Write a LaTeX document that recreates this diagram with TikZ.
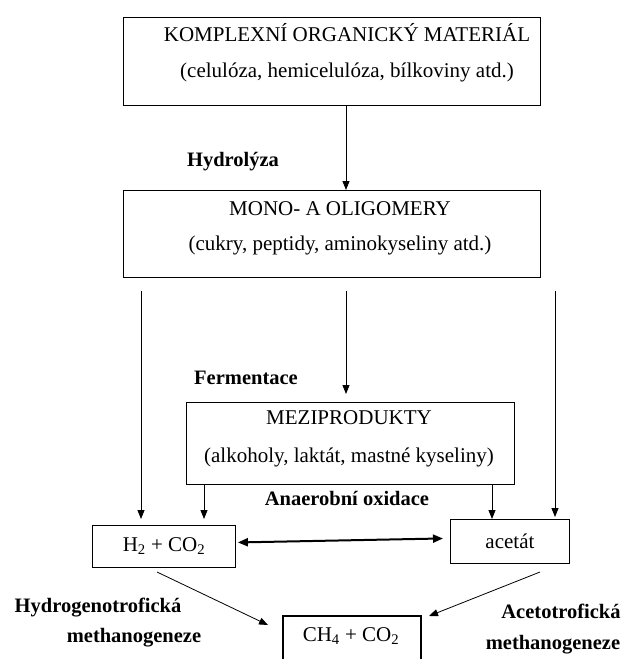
\documentclass[tikz,border=0pt]{standalone}
\usepackage{fontspec}
\setmainfont{Liberation Serif}
\usetikzlibrary{arrows.meta,calc}
\begin{document}
\begin{tikzpicture}[x=1pt,y=-1pt,
  box/.style={draw,line width=0.9pt,inner sep=0pt,anchor=north west},
  txt/.style={inner sep=0pt,font=\fontsize{21}{21}\selectfont},
  lbl/.style={inner sep=0pt,font=\fontsize{20.5}{24}\selectfont\bfseries,align=center},
  arr/.style={line width=0.8pt,-{Triangle[length=9pt,width=7pt]}},
  darr/.style={line width=2pt,{Triangle[length=10pt,width=8pt]}-{Triangle[length=10pt,width=8pt]}}]
\useasboundingbox (0,0) rectangle (625,659);
% boxes
\node[box,minimum width=417pt,minimum height=88pt] (top) at (123,17) {};
\node[box,minimum width=417pt,minimum height=87pt] (mono) at (123,190) {};
\node[box,minimum width=328pt,minimum height=82pt] (mezi) at (186,402) {};
\node[box,minimum width=143pt,minimum height=42pt] (h2) at (92,525) {};
\node[box,minimum width=119pt,minimum height=44pt] (ac) at (450,519) {};
\node[box,line width=2pt,minimum width=138pt,minimum height=60pt] (ch4) at (282,615) {};
% texts
\node[txt] (t1) at (347,33) {KOMPLEXNÍ ORGANICKÝ MATERIÁL};
\node[txt] (t2) at (347,72) {(celulóza, hemicelulóza, bílkoviny atd.)};
\node[txt] (m1) at (340,209) {MONO- A OLIGOMERY};
\node[txt] (m2) at (340,245) {(cukry, peptidy, aminokyseliny atd.)};
\node[txt] (z1) at (349,418) {MEZIPRODUKTY};
\node[txt] (z2) at (349,457) {(alkoholy, laktát, mastné kyseliny)};
\node[txt] (h2t) at (h2.center) {H\textsubscript{2} + CO\textsubscript{2}};
\node[txt] (act) at (ac.center) {acetát};
\node[txt] (ch4t) at (351,636) {CH\textsubscript{4} + CO\textsubscript{2}};
% labels
\node[lbl] (hyd) at (233,162) {Hydrolýza};
\node[lbl] (fer) at (246,378) {Fermentace};
\node[lbl] (ana) at (347,498) {Anaerobní oxidace};
\node[lbl,anchor=base] (hm1) at (98,612) {Hydrogenotrofická};
\node[lbl,anchor=base] (hm2) at (134,642) {methanogeneze};
\node[lbl,anchor=base] (am1) at (561,618) {Acetotrofická};
\node[lbl,anchor=base] (am2) at (553,649) {methanogeneze};
% coordinates
\coordinate (xa) at (141,0);
\coordinate (xb) at (346,0);
\coordinate (xc) at (555,0);
\coordinate (xd) at (204,0);
\coordinate (xe) at (492,0);
\coordinate (p1) at (157,572);
\coordinate (p2) at (268,625);
\coordinate (q1) at (540,572);
\coordinate (q2) at (429,616);
% arrows
\draw[arr] (top.south -| xb) -- (mono.north -| xb);
\draw[arr] ($(mono.south -| xa)+(0,13)$) -- ($(h2.north -| xa)+(0,-6)$);
\draw[arr] ($(mono.south -| xb)+(0,13)$) -- ($(mezi.north -| xb)+(0,-8)$);
\draw[arr] ($(mono.south -| xc)+(0,13)$) -- ($(ac.north -| xc)+(0,-2)$);
\draw[arr] (mezi.south -| xd) -- ($(h2.north -| xd)+(0,-6)$);
\draw[arr] (mezi.south -| xe) -- (ac.north -| xe);
\draw[darr] ($(h2.east)+(2,-4)$) -- ($(ac.west)+(-7,-3)$);
\draw[arr] (p1) -- (p2);
\draw[arr] (q1) -- (q2);
\end{tikzpicture}
\end{document}
